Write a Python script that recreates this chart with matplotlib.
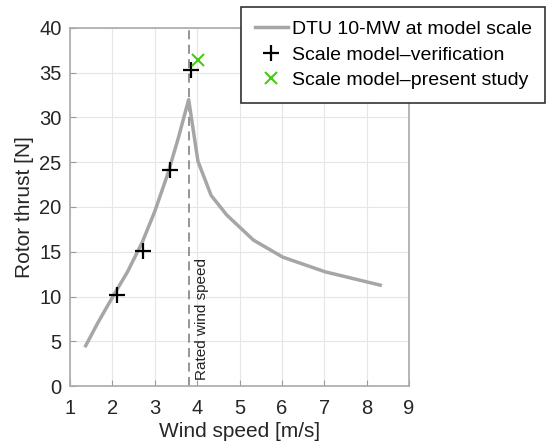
import numpy as np
import matplotlib.pyplot as plt

plt.rcParams['font.family'] = ['Liberation Sans', 'DejaVu Sans']

# DTU 10-MW thrust curve at model scale
wind = [1.37, 1.65, 2.0, 2.35, 2.7, 3.0, 3.3, 3.55, 3.8, 4.02, 4.33, 4.7, 5.33, 6.02, 7.02, 8.32]
thrust = [4.5, 7.0, 9.9, 12.7, 16.0, 19.5, 23.6, 27.6, 32.0, 25.1, 21.3, 19.1, 16.3, 14.4, 12.76, 11.27]

# scale model verification
ver_wind = [2.10, 2.73, 3.36, 3.85]
ver_thrust = [10.15, 15.07, 24.14, 35.26]

# present study
ps_wind = [4.02]
ps_thrust = [36.45]

rated = 3.8

fig = plt.figure(figsize=(5.52, 4.45), dpi=100)
ax = fig.add_axes([70/552, 1-386/445, 339/552, 358/445])

ax.plot(wind, thrust, color='#a6a6a6', lw=2.5, label='DTU 10-MW at model scale', zorder=3)
ax.plot(ver_wind, ver_thrust, '+', color='black', ms=11, mew=1.6, label='Scale model\u2013verification', zorder=4)
ax.plot(ps_wind, ps_thrust, 'x', color='#44cc11', ms=8, mew=1.5, label='Scale model\u2013present study', zorder=4)
ax.axvline(rated, color='#8c8c8c', ls=(0, (5, 3)), lw=1.3, zorder=2)
ax.text(rated + 0.32, 0.7, 'Rated wind speed', rotation=90, fontsize=11,
        ha='center', va='bottom', color='#222222')

ax.set_xlim(1, 9)
ax.set_ylim(0, 40)
ax.set_xticks(range(1, 10))
ax.set_yticks(range(0, 41, 5))
ax.grid(True, color='#e6e6e6', lw=0.8)
ax.set_axisbelow(True)
ax.tick_params(direction='in', length=4, color='#999999', labelsize=14.5, labelcolor='#262626')
ax.tick_params(axis='x', pad=9)
ax.tick_params(axis='y', pad=6)
for s in ax.spines.values():
    s.set_color('#aaaaaa')
    s.set_linewidth(1.2)
ax.set_xlabel('Wind speed [m/s]', fontsize=15, color='#262626', labelpad=3)
ax.set_ylabel('Rotor thrust [N]', fontsize=15, color='#262626', labelpad=4)

leg = ax.legend(loc='upper left', bbox_to_anchor=(171/339, 1+21/358), fontsize=14,
                frameon=True, fancybox=False, edgecolor='#333333', framealpha=1,
                handlelength=1.7, handletextpad=0.2, borderpad=0.7, labelspacing=0.4,
                borderaxespad=0)
leg.get_frame().set_linewidth(1.2)
leg.set_zorder(10)

fig.savefig('out.png', dpi=100)
